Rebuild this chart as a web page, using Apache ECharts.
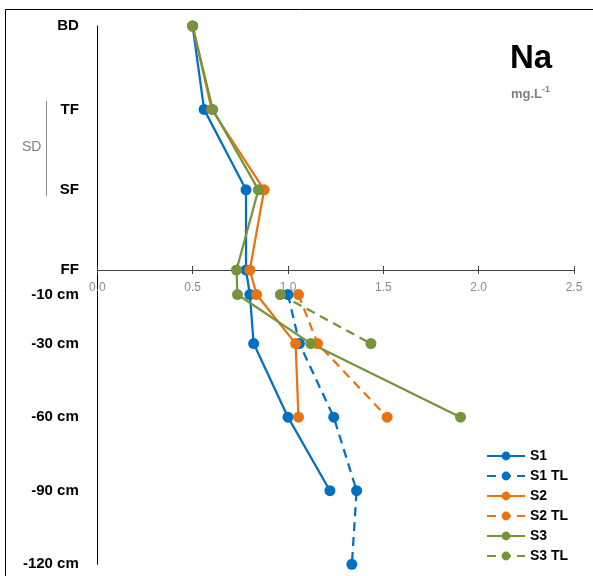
<!DOCTYPE html>
<html>
<head>
<meta charset="utf-8">
<script src="https://cdn.jsdelivr.net/npm/echarts@6/dist/echarts.min.js"></script>
<style>
html,body{margin:0;padding:0;background:#fff;}
#chart{width:593px;height:576px;}
</style>
</head>
<body>
<div id="chart"></div>
<script>
// Depth positions (vertical scale): BD, TF, SF, FF, then soil depths in cm
var levelLabels = ['BD', 'TF', 'SF', 'FF', '-10 cm', '-30 cm', '-60 cm', '-90 cm', '-120 cm'];
var levelDepths = [99.5, 65.5, 32.7, 0, -10, -30, -60, -90, -120];

// Na concentration (mg.L-1) per level; null = no measurement
var s1   = [0.50, 0.56, 0.78, 0.78, 0.80, 0.82, 1.00, 1.22, null];
var s1TL = [null, null, null, null, 1.00, 1.06, 1.24, 1.36, 1.335];
var s2   = [0.50, 0.60, 0.875, 0.80, 0.835, 1.04, 1.055, null, null];
var s2TL = [null, null, null, null, 1.055, 1.155, 1.52, null, null];
var s3   = [0.50, 0.605, 0.845, 0.73, 0.735, 1.12, 1.905, null, null];
var s3TL = [null, null, null, null, 0.96, 1.435, null, null, null];

var xTicks = [0, 0.5, 1.0, 1.5, 2.0, 2.5];

var seriesNames = ['S1', 'S1 TL', 'S2', 'S2 TL', 'S3', 'S3 TL'];
var seriesValues = [s1, s1TL, s2, s2TL, s3, s3TL];
var seriesColors = ['#0070C0', '#0070C0', '#E97311', '#E97311', '#77933C', '#77933C'];
var seriesDashed = [false, true, false, true, false, true];

function pairs(vals) {
  var out = [];
  for (var i = 0; i < vals.length; i++) {
    if (vals[i] !== null) out.push([vals[i], levelDepths[i]]);
  }
  return out;
}

var series = seriesNames.map(function (n, i) {
  return {
    name: n,
    type: 'line',
    xAxisIndex: 0,
    yAxisIndex: 0,
    data: pairs(seriesValues[i]),
    symbol: 'circle',
    symbolSize: 11,
    showSymbol: true,
    color: seriesColors[i],
    lineStyle: { width: 2.25, color: seriesColors[i], type: seriesDashed[i] ? [9, 6] : 'solid' },
    itemStyle: { color: seriesColors[i] },
    emphasis: { disabled: true },
    animation: false
  };
});

var chart = echarts.init(document.getElementById('chart'), null, { renderer: 'canvas' });
var axisCol = '#404040';

function xAxisDef(pos, showLabel, offset) {
  return {
    type: 'value', min: 0, max: 2.5, interval: 0.5, position: pos, offset: offset,
    axisLine: { show: true, onZero: false, lineStyle: { color: axisCol, width: 1 } },
    axisTick: { show: true, length: 4, lineStyle: { color: axisCol } },
    axisLabel: { show: showLabel, color: '#8c8c8c', fontSize: 12, fontFamily: 'Liberation Sans', margin: 12,
      showMinLabel: true, showMaxLabel: true,
      formatter: function (v) { return v.toFixed(1); } },
    splitLine: { show: false }
  };
}

chart.setOption({
  animation: false,
  grid: { left: 97.3, right: 19, top: 26, bottom: 11.7, containLabel: false, outerBoundsMode: 'none' },
  xAxis: [xAxisDef('bottom', true, 0), xAxisDef('top', false, 0)],
  yAxis: {
    type: 'value', min: -120, max: 99.5,
    axisLine: { show: true, onZero: false, lineStyle: { color: '#000', width: 1 } },
    axisTick: { show: false },
    splitLine: { show: false },
    axisLabel: {
      customValues: levelDepths,
      margin: 18.5,
      color: '#000', fontWeight: 'bold', fontSize: 15, fontFamily: 'Liberation Sans',
      formatter: function (v) {
        var idx = levelDepths.indexOf(v);
        return idx >= 0 ? levelLabels[idx] : '';
      }
    }
  },
  legend: {
    data: seriesNames,
    orient: 'vertical',
    left: 481, top: 441,
    itemWidth: 38, itemHeight: 11, itemGap: 0,
    textStyle: { fontWeight: 'bold', fontSize: 14, lineHeight: 20, color: '#000', fontFamily: 'Liberation Sans' },
    selectedMode: false
  },
  graphic: [
    { type: 'rect', shape: { x: 5.5, y: 9.5, width: 700, height: 700 }, style: { fill: null, stroke: '#000', lineWidth: 1 }, silent: true },
    { type: 'line', shape: { x1: 46.5, y1: 101, x2: 46.5, y2: 196 }, style: { stroke: '#8c8c8c', lineWidth: 1 } },
    { type: 'text', x: 22, y: 147, style: { text: 'SD', fill: '#7f7f7f', font: '14px "Liberation Sans"', verticalAlign: 'middle', align: 'left' } },
    { type: 'text', x: 510, y: 59, style: { text: 'Na', fill: '#000', font: 'bold 33px "Liberation Sans"', verticalAlign: 'middle', align: 'left' } },
    { type: 'text', x: 511, y: 93, style: {
        text: '{a|mg.L}{b|-1}', verticalAlign: 'middle', align: 'left',
        rich: {
          a: { fill: '#7f7f7f', fontWeight: 'bold', fontSize: 13, fontFamily: 'Liberation Sans', verticalAlign: 'bottom' },
          b: { fill: '#7f7f7f', fontWeight: 'bold', fontSize: 9, fontFamily: 'Liberation Sans', verticalAlign: 'top', padding: [0, 0, 6, 0] }
        } } }
  ],
  series: series
});

// Move both x axes onto the y = 0 (FF) line using the library's own scale
var yZero = chart.convertToPixel({ yAxisIndex: 0 }, 0);
var yBottom = chart.convertToPixel({ yAxisIndex: 0 }, -120);
var yTop = chart.convertToPixel({ yAxisIndex: 0 }, 99.5);
chart.setOption({
  xAxis: [{ offset: -(yBottom - yZero) }, { offset: -(yZero - yTop) }]
});
</script>
</body>
</html>
